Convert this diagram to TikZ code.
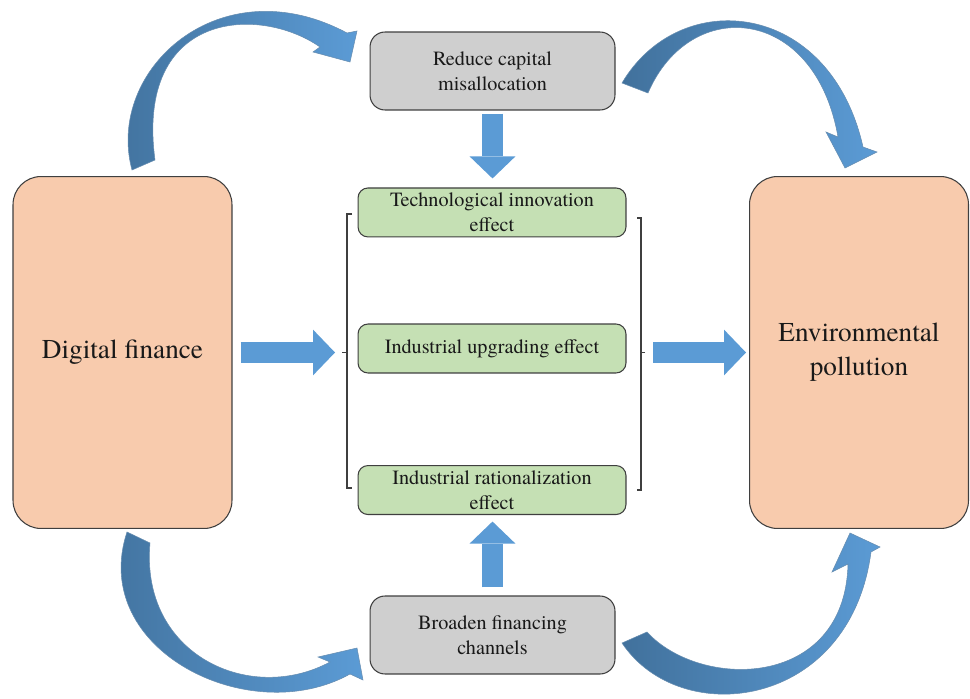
\documentclass[tikz,border=0pt]{standalone}
\usepackage{fontspec}
\setmainfont{texgyretermes}[Extension=.otf,UprightFont=*-regular,BoldFont=*-bold,
    ItalicFont=*-italic,BoldItalicFont=*-bolditalic]
\usetikzlibrary{positioning,arrows.meta}

\definecolor{peach}{HTML}{F8CBAD}
\definecolor{sage}{HTML}{C5E0B4}
\definecolor{ash}{HTML}{CFCFCF}
\definecolor{arrowblue}{HTML}{5B9BD5}
\definecolor{arrowdark}{HTML}{41719C}
\definecolor{edge}{HTML}{3F3F3F}

\begin{document}
\begin{tikzpicture}[x=0.02cm,y=-0.02cm,
        every node/.style={draw=edge,line width=0.6pt,align=center,inner sep=2pt,text=black!90},
        bigbox/.style={fill=peach,rounded corners=0.56cm,minimum width=4.38cm,minimum height=7.04cm,
            font=\fontsize{15.5}{19.5}\selectfont},
        greybox/.style={fill=ash,rounded corners=0.3cm,minimum width=4.9cm,minimum height=1.56cm,
            font=\fontsize{11.5}{14.2}\selectfont},
        effectbox/.style={fill=sage,rounded corners=0.2cm,minimum width=5.36cm,minimum height=0.98cm,
            font=\fontsize{11.5}{14.2}\selectfont},
        blockarrow/.style={draw=arrowblue,line width=12.5pt,
            -{Triangle[width=26pt,length=12.5pt,line width=0pt]}},
        bendarrow/.style={draw=arrowdark!80,line width=0.3pt,left color=arrowdark,right color=arrowblue},
        bracket/.style={draw=edge,line width=0.6pt}]
        \useasboundingbox (0,0) rectangle (970,699);

        \node[bigbox] (fin) at (122.5,352.5) {Digital finance};
        \node[bigbox] (poll) at (859,352.5) {Environmental\\pollution};
        \node[greybox] (mis) at (492.5,71) {Reduce capital\\misallocation};
        \node[greybox] (chan) at (492.5,635) {Broaden financing\\channels};

        \node[effectbox] (upg) at (492,348.5) {Industrial upgrading effect};
        \node[effectbox,above=1.72cm of upg] (tech) {Technological innovation\\effect};
        \node[effectbox,below=1.83cm of upg] (rat) {Industrial rationalization\\effect};

        % brackets round the three effects
        \coordinate (lb) at (342,352.5);
        \coordinate (rb) at (645,352.5);
        \draw[bracket] (352,214) -- (347,214) -- (347,488) -- (352,488) (lb) -- (347,352.5);
        \draw[bracket] (637,218) -- (641,218) -- (641,490) -- (637,490) (rb) -- (641,352.5);

        \draw[blockarrow,shorten <=0.16cm,shorten >=0.14cm] (fin.east) -- (lb);
        \draw[blockarrow,shorten <=0.16cm,shorten >=0.06cm] (rb) -- (poll.west);
        \draw[blockarrow,shorten <=0.06cm,shorten >=0.18cm] (mis.south) -- (mis.south |- tech.north);
        \draw[blockarrow,shorten <=0.16cm,shorten >=0.13cm] (chan.north) -- (chan.north |- rat.south);

        % curved arrows
        \path[bendarrow] (132,170) .. controls (105,70) and (220,-35) .. (347,33) -- (357,31) -- (350,62)
            -- (313,52) -- (320,47) .. controls (260,5) and (135,10) .. (155,160) -- cycle;
        \path[bendarrow] (622,83) .. controls (680,-15) and (830,0) .. (863,147) -- (877,152) -- (845,168)
            -- (826,132) -- (838,137) .. controls (815,5) and (690,-5) .. (648,93) -- cycle;
        \path[bendarrow] (127,532) .. controls (88,650) and (250,730) .. (350,674) -- (363,680) -- (357,648)
            -- (318,657) -- (330,662) .. controls (250,705) and (140,655) .. (150,543) -- cycle;
        \path[bendarrow] (622,643) .. controls (680,730) and (850,710) .. (871,552) -- (880,547) -- (850,533)
            -- (832,572) -- (848,564) .. controls (845,690) and (700,690) .. (647,632) -- cycle;
\end{tikzpicture}
\end{document}
